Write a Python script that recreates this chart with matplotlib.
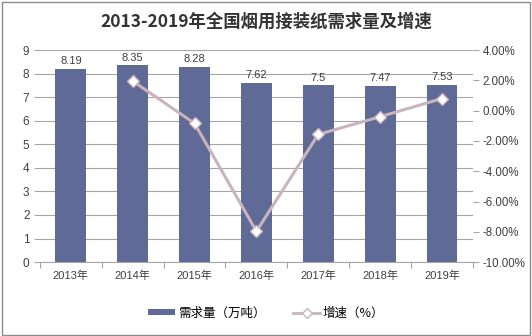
import matplotlib
matplotlib.use("Agg")
import matplotlib.pyplot as plt
from matplotlib.patches import Rectangle
from matplotlib.lines import Line2D
from matplotlib.patches import Patch

plt.rcParams['font.family'] = ['Liberation Sans', 'Noto Sans CJK SC', 'DejaVu Sans']

years = ["2013年", "2014年", "2015年", "2016年", "2017年", "2018年", "2019年"]
demand = [8.19, 8.35, 8.28, 7.62, 7.5, 7.47, 7.53]
growth_years = ["2014年", "2015年", "2016年", "2017年", "2018年", "2019年"]
growth = [1.95, -0.84, -7.97, -1.57, -0.40, 0.80]

bar_color = "#5F6A97"
line_color = "#C8B4BC"
grid_color = "#A6A6A6"
text_color = "#404040"

fig = plt.figure(figsize=(5.32, 3.36), dpi=100)
ax = fig.add_axes([0.075, 0.22, 0.814, 0.631])
x = list(range(len(years)))
ax.bar(x, demand, width=0.5, color=bar_color, zorder=2)
for xi, v in zip(x, demand):
    ax.text(xi, v + 0.12, f"{v:g}", ha="center", va="bottom", fontsize=8, color=text_color)

ax.set_xlim(-0.5, len(years) - 0.5)
ax.set_ylim(0, 9)
ax.set_yticks(range(0, 10))
ax.set_xticks(x)
ax.set_xticklabels(years, fontsize=8, color=text_color,
                   family=['Liberation Sans', 'Noto Sans CJK SC'])
ax.tick_params(axis='y', labelsize=8.5, colors=text_color, length=4, width=0.8, color=grid_color)
ax.tick_params(axis='x', length=0, pad=6)
ax.set_xticks([i - 0.5 for i in range(len(years) + 1)], minor=True)
ax.tick_params(axis='x', which='minor', length=4, color=grid_color, width=0.8)
ax.grid(axis='y', color=grid_color, linewidth=0.8, zorder=0)
for s in ['top', 'right', 'left']:
    ax.spines[s].set_visible(False)
ax.spines['bottom'].set_color(grid_color)
ax.set_axisbelow(True)

ax2 = ax.twinx()
gx = [years.index(y) for y in growth_years]
ax2.plot(gx, growth, color=line_color, linewidth=2.2, marker='D', markersize=6,
         markerfacecolor='white', markeredgecolor=line_color, markeredgewidth=1, zorder=3)
ax2.set_ylim(-10, 4)
ax2.set_yticks(range(-10, 5, 2))
ax2.set_yticklabels([f"{v:.2f}%" for v in range(-10, 5, 2)])
ax2.tick_params(axis='y', labelsize=8.3, colors=text_color, length=4, width=0.8, color=grid_color, pad=3)
for s in ['top', 'right', 'left', 'bottom']:
    ax2.spines[s].set_visible(False)

fig.text(0.5, 0.935, "2013-2019年全国烟用接装纸需求量及增速", ha="center", va="center",
         fontsize=12.5, fontweight="bold", color="#333333",
         family=['Noto Sans CJK SC', 'DejaVu Sans'])

handles = [Patch(facecolor=bar_color, edgecolor='none'),
           Line2D([0], [0], color=line_color, linewidth=2, marker='D', markersize=5,
                  markerfacecolor='white', markeredgecolor=line_color)]
fig.legend(handles, ["需求量（万吨）", "增速（%）"], loc="center", bbox_to_anchor=(0.5, 0.068),
           ncol=2, frameon=False, fontsize=9, handlelength=2.2, handleheight=0.35,
           columnspacing=2.2, handletextpad=0.2,
           prop={'family': ['Noto Sans CJK SC', 'DejaVu Sans'], 'size': 9})

fig.patches.append(Rectangle((0.003, 0.004), 0.994, 0.99, transform=fig.transFigure,
                             fill=False, edgecolor="#8C8C8C", linewidth=1))

fig.savefig("out.png", dpi=100)
